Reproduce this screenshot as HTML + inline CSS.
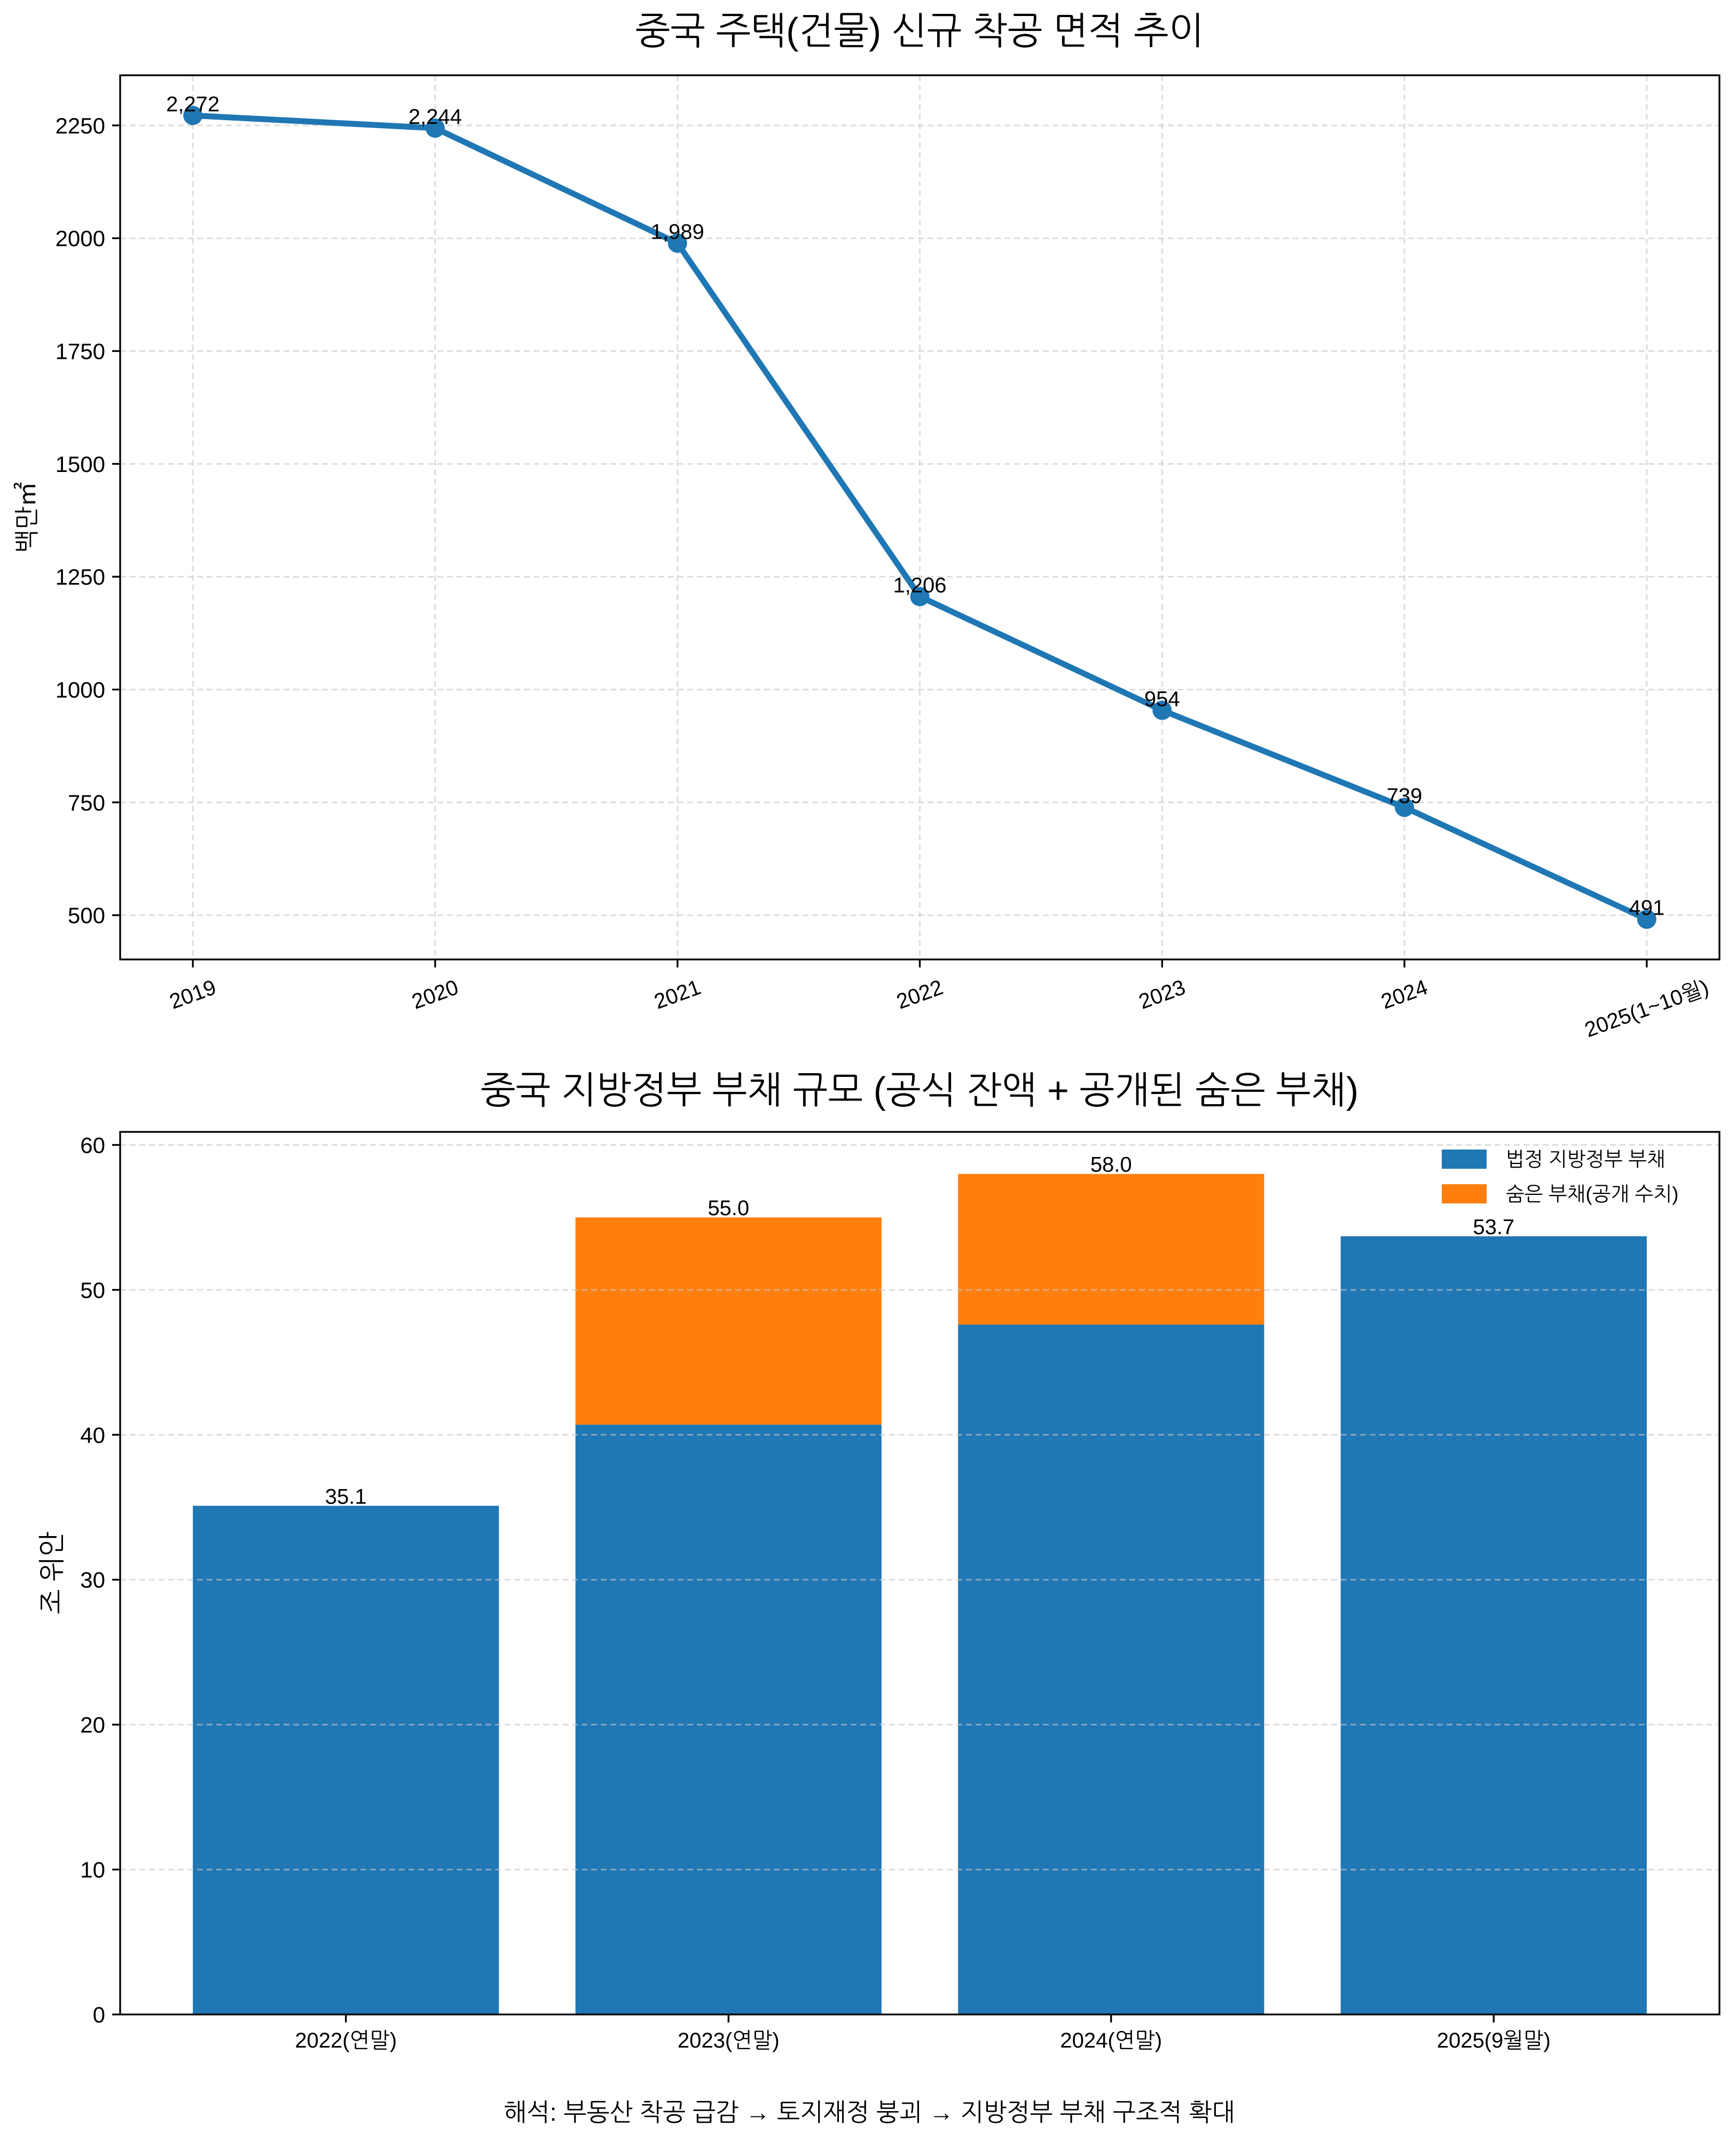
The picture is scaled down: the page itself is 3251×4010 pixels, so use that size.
<!DOCTYPE html>
<html><head><meta charset="utf-8">
<style>
html,body{margin:0;padding:0;background:#fff;}
svg{display:block;font-family:"Liberation Sans","NanumGothic","Noto Sans CJK KR",sans-serif;}
</style></head>
<body>
<svg id="fig" width="3251" height="4010" viewBox="0 0 3251 4010" xmlns="http://www.w3.org/2000/svg">
<rect x="0" y="0" width="3251" height="4010" fill="#fff"/>
<text x="1722" y="82" font-size="70" text-anchor="middle">중국 주택(건물) 신규 착공 면적 추이</text>
<text x="1722" y="2066" font-size="70" text-anchor="middle">중국 지방정부 부채 규모 (공식 잔액 + 공개된 숨은 부채)</text>
<text transform="translate(66,969) rotate(-90)" font-size="46" text-anchor="middle">백만㎡</text>
<text transform="translate(114,2946) rotate(-90)" font-size="50" text-anchor="middle">조 위안</text>
<text x="1628" y="3972" font-size="46" text-anchor="middle">해석: 부동산 착공 급감 → 토지재정 붕괴 → 지방정부 부채 구조적 확대</text>
<g id="top"></g>
<g id="bottom"></g>
</svg>
<script>
const years = ["2019","2020","2021","2022","2023","2024","2025(1~10월)"];
const starts = [2272,2244,1989,1206,954,739,491];
const startLabels = ["2,272","2,244","1,989","1,206","954","739","491"];
const topTicks = [500,750,1000,1250,1500,1750,2000,2250];

const periods = ["2022(연말)","2023(연말)","2024(연말)","2025(9월말)"];
const statutory = [35.1,40.7,47.6,53.7];
const hidden = [0,14.3,10.4,0];
const totals = ["35.1","55.0","58.0","53.7"];
const bottomTicks = [0,10,20,30,40,50,60];

const NS="http://www.w3.org/2000/svg";
function mk(tag,attrs,parent,text){const e=document.createElementNS(NS,tag);for(const k in attrs)e.setAttribute(k,attrs[k]);if(text!==undefined)e.textContent=text;parent.appendChild(e);return e;}

// ---- top chart ----
const T={l:225,r:3220,t:141,b:1797};
const tMin=Math.min(...starts),tMax=Math.max(...starts),tPad=(tMax-tMin)*0.05;
const ty0=tMin-tPad,ty1=tMax+tPad;
const txN=years.length-1,txPad=txN*0.05;
function tx(i){return T.l+(i+txPad)/(txN+2*txPad)*(T.r-T.l);}
function ty(v){return T.b-(v-ty0)/(ty1-ty0)*(T.b-T.t);}
const gt=document.getElementById('top');
topTicks.forEach(v=>{
  const y=ty(v);
  const g=mk('line',{x1:T.l,x2:T.r,y1:y,y2:y,stroke:'#c8c8c8','stroke-width':3,'stroke-dasharray':'11 7',opacity:0.6},gt);
  
  
  const tk=mk('line',{x1:T.l-15,x2:T.l,y1:y,y2:y,stroke:'#000','stroke-width':3.3},gt);
  
  
  const lb=mk('text',{x:T.l-28,y:y+15,'font-size':42,'text-anchor':'end'},gt,String(v));
  
  
});
years.forEach((yr,i)=>{
  const x=tx(i);
  const g=mk('line',{x1:x,x2:x,y1:T.t,y2:T.b,stroke:'#c8c8c8','stroke-width':3,'stroke-dasharray':'11 7',opacity:0.6},gt);
  
  
  const tk=mk('line',{x1:x,x2:x,y1:T.b,y2:T.b+15,stroke:'#000','stroke-width':3.3},gt);
  
  
  const lb=mk('text',{x:x,y:0,'font-size':40,'text-anchor':'middle','dominant-baseline':'central'},gt,yr);
  
  
  const w=lb.getComputedTextLength?lb.getComputedTextLength():yr.length*22;
  const h=44,a=20*Math.PI/180;
  const cy=T.b+30+(w*Math.sin(a)+h*Math.cos(a))/2;
  lb.setAttribute('y',cy);
  lb.setAttribute('transform','rotate(-20 '+x+' '+cy+')');
});
let d='';starts.forEach((v,i)=>{d+=(i?'L':'M')+tx(i)+' '+ty(v);});
const line=mk('path',{d:d,fill:'none',stroke:'#1f77b4','stroke-width':11,'stroke-linejoin':'round','stroke-linecap':'round'},gt);


starts.forEach((v,i)=>{
  const c=mk('circle',{cx:tx(i),cy:ty(v),r:18,fill:'#1f77b4'},gt);
  
  
  const t=mk('text',{x:tx(i),y:ty(v)-8,'font-size':40,'text-anchor':'middle'},gt,startLabels[i]);
  
  
});
const tf=mk('rect',{x:T.l,y:T.t,width:T.r-T.l,height:T.b-T.t,fill:'none',stroke:'#000','stroke-width':3.3},gt);



// ---- bottom chart ----
const B={l:225,r:3220,t:2120,b:3773};
const sums=statutory.map((v,i)=>v+hidden[i]);
const by1=Math.max(...sums)*1.05;
const bw=0.8,bn=periods.length;
const bxMin=-bw/2,bxMax=bn-1+bw/2,bxPad=(bxMax-bxMin)*0.05;
function bx(u){return B.l+(u-(bxMin-bxPad))/((bxMax+bxPad)-(bxMin-bxPad))*(B.r-B.l);}
function by(v){return B.b-v/by1*(B.b-B.t);}
const gb=document.getElementById('bottom');
periods.forEach((p,i)=>{
  const x0=bx(i-bw/2),x1=bx(i+bw/2);
  const r1=mk('rect',{x:x0,y:by(statutory[i]),width:x1-x0,height:by(0)-by(statutory[i]),fill:'#1f77b4'},gb);
  
  
  if(hidden[i]>0){
    const r2=mk('rect',{x:x0,y:by(sums[i]),width:x1-x0,height:by(statutory[i])-by(sums[i]),fill:'#ff7f0e'},gb);
    
    
  }
  const t=mk('text',{x:bx(i),y:by(sums[i])-4,'font-size':40,'text-anchor':'middle'},gb,totals[i]);
  
  
  const tk=mk('line',{x1:bx(i),x2:bx(i),y1:B.b,y2:B.b+15,stroke:'#000','stroke-width':3.3},gb);
  
  
  const lb=mk('text',{x:bx(i),y:B.b+62,'font-size':40,'text-anchor':'middle'},gb,p);
  
  
});
bottomTicks.forEach(v=>{
  const y=by(v);
  const g=mk('line',{x1:B.l,x2:B.r,y1:y,y2:y,stroke:'#c8c8c8','stroke-width':3,'stroke-dasharray':'11 7',opacity:0.6},gb);
  
  
  const tk=mk('line',{x1:B.l-15,x2:B.l,y1:y,y2:y,stroke:'#000','stroke-width':3.3},gb);
  
  
  const lb=mk('text',{x:B.l-28,y:y+15,'font-size':42,'text-anchor':'end'},gb,String(v));
  
  
});
const bf=mk('rect',{x:B.l,y:B.t,width:B.r-B.l,height:B.b-B.t,fill:'none',stroke:'#000','stroke-width':3.3},gb);


// legend
const lg=mk('g',{},gb);


const l1=mk('rect',{x:2700,y:2153,width:84,height:36,fill:'#1f77b4'},lg);


const l1t=mk('text',{x:2820,y:2184,'font-size':37},lg,'법정 지방정부 부채');


const l2=mk('rect',{x:2700,y:2218,width:84,height:36,fill:'#ff7f0e'},lg);


const l2t=mk('text',{x:2820,y:2249,'font-size':37},lg,'숨은 부채(공개 수치)');


</script>
</body></html>
